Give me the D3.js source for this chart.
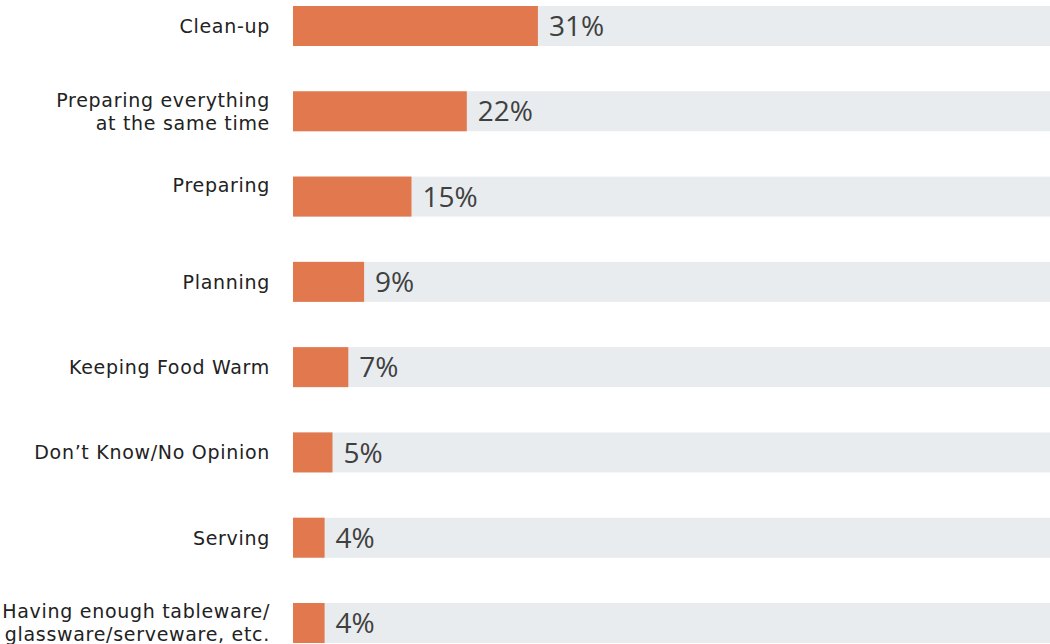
<!DOCTYPE html>
<html>
<head>
<meta charset="utf-8">
<script src="https://cdn.jsdelivr.net/npm/d3@7"></script>
<style>
  body { margin: 0; background: #fff; }
  svg { display: block; }
</style>
</head>
<body>
<svg></svg>
<script>
// categories, each one split into the lines it is drawn on
var categories = [
  ["Clean-up"],
  ["Preparing everything", "at the same time"],
  ["Preparing", ""],
  ["Planning"],
  ["Keeping Food Warm"],
  ["Don\u2019t Know/No Opinion"],
  ["Serving"],
  ["Having enough tableware/", "glassware/serveware, etc."]
];
// share of answers, in percent
var values = [31, 22, 15, 9, 7, 5, 4, 4];

var width = 1050;
var height = 644;

var svg = d3.select("svg")
  .attr("width", width)
  .attr("height", height);

// keys for the band scale
var keys = categories.map(d => d.join(" "));

var y = d3.scaleBand()
  .domain(keys)
  .range([6, 643])
  .paddingInner(0.531)
  .paddingOuter(0);

var x = d3.scaleLinear()
  .domain([0, 100])
  .range([293, 1083]);

var rows = svg.selectAll(".row")
  .data(values)
  .enter()
  .append("g")
  .classed("row", true)
  .attr("transform", (d, i) => "translate(0," + y(keys[i]) + ")");

// grey track behind every bar
rows.append("rect")
  .attr("x", x(0))
  .attr("width", x(100) - x(0))
  .attr("height", y.bandwidth())
  .attr("fill", "#e8ecef");

// the bar itself
rows.append("rect")
  .attr("x", x(0))
  .attr("width", d => x(d) - x(0))
  .attr("height", y.bandwidth())
  .attr("fill", "#e2784d");

// value after the bar
rows.append("text")
  .attr("x", d => x(d) + 11)
  .attr("y", y.bandwidth() / 2)
  .attr("dy", "0.36em")
  .attr("font-family", "'Open Sans', sans-serif")
  .attr("font-size", 28)
  .attr("fill", "#404040")
  .text(d => d + "%");

// category label, right aligned, one or two lines
rows.append("text")
  .attr("text-anchor", "end")
  .attr("font-family", "'DejaVu Sans', sans-serif")
  .attr("font-size", 19)
  .attr("letter-spacing", 0.7)
  .attr("fill", "#222")
  .each(function(d, i) {
    var lines = categories[i];
    var lineH = 23;
    var top = y.bandwidth() / 2 - (lines.length - 1) * lineH / 2;
    d3.select(this).selectAll("tspan")
      .data(lines)
      .enter()
      .append("tspan")
      .attr("x", 270)
      .attr("y", (l, j) => top + j * lineH)
      .attr("dy", "0.36em")
      .text(l => l);
  });
</script>
</body>
</html>
